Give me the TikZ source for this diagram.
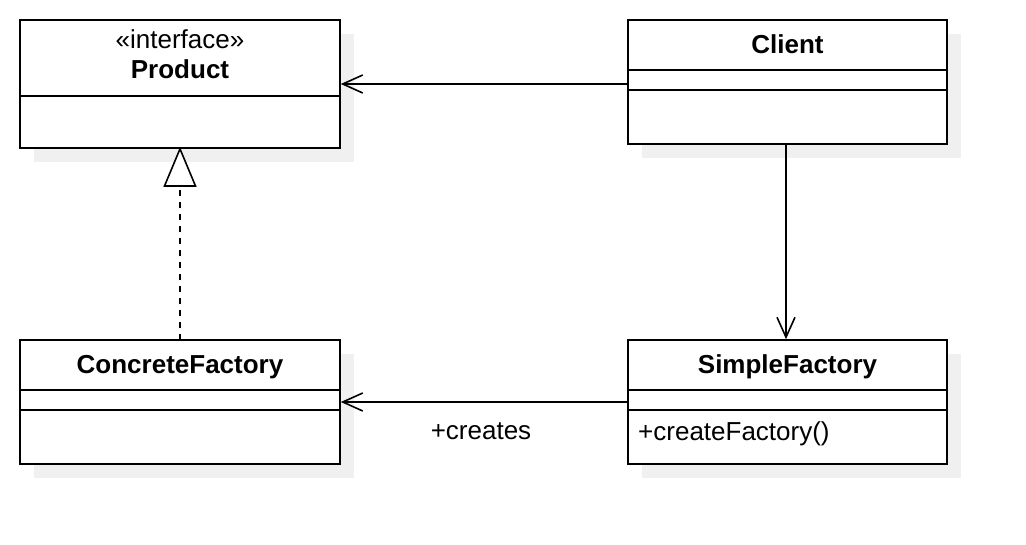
\documentclass[tikz,border=0pt]{standalone}
\usepackage{fontspec}
\setmainfont{Liberation Sans}
\usetikzlibrary{arrows.meta}
\tikzset{
  x=1pt,y=-1pt,
  umlbox/.style={draw=black,line width=1.6pt,fill=white,rectangle,minimum width=320pt,inner sep=0pt},
  shadowbox/.style={fill=black!6,draw=none},
  divider/.style={line width=1.6pt},
  assoc/.style={line width=1.6pt,-{Straight Barb[length=20pt,width=18pt,line width=1.6pt]}},
  realize/.style={line width=1.6pt,dash pattern=on 6pt off 6pt,-{Triangle[open,fill=white,length=40pt,width=33pt,line width=1.6pt]}},
  lbl/.style={font=\fontsize{26}{31}\selectfont,inner sep=0pt},
  blbl/.style={font=\fontsize{26}{31}\selectfont\bfseries,inner sep=0pt},
}
\begin{document}
\begin{tikzpicture}
\useasboundingbox (0,0) rectangle (1026,544);
% shadows
\fill[shadowbox] (34,34) rectangle (354,162);
\fill[shadowbox] (642,34) rectangle (961,158);
\fill[shadowbox] (34,354) rectangle (354,478);
\fill[shadowbox] (642,354) rectangle (961,478);
% class boxes
\node[umlbox,minimum height=128pt] (product) at (180,84) {};
\node[umlbox,minimum height=124pt,minimum width=319pt] (client) at (787.5,82) {};
\node[umlbox,minimum height=124pt] (concrete) at (180,402) {};
\node[umlbox,minimum height=124pt,minimum width=319pt] (simple) at (787.5,402) {};
% dividers
\draw[divider] (product.west |- 0,96) -- (product.east |- 0,96);
\draw[divider] (client.west |- 0,70) -- (client.east |- 0,70);
\draw[divider] (client.west |- 0,90) -- (client.east |- 0,90);
\draw[divider] (concrete.west |- 0,390) -- (concrete.east |- 0,390);
\draw[divider] (concrete.west |- 0,410) -- (concrete.east |- 0,410);
\draw[divider] (simple.west |- 0,390) -- (simple.east |- 0,390);
\draw[divider] (simple.west |- 0,410) -- (simple.east |- 0,410);
% texts
\node[lbl,anchor=base] (stereo) at (180,48) {«interface»};
\node[blbl,anchor=base] (ptitle) at (180,78) {Product};
\node[blbl,anchor=base] (ctitle) at (787.5,53) {Client};
\node[blbl,anchor=base] (cftitle) at (180,373) {ConcreteFactory};
\node[blbl,anchor=base] (sftitle) at (787.5,373) {SimpleFactory};
\node[lbl,anchor=base west] (op) at (638,440) {+createFactory()};
% connectors
\draw[assoc] (client.west |- product.east) -- (product.east);
\draw[assoc] ([xshift=-1.5pt]client.south) -- ([xshift=-1.5pt]simple.north);
\draw[assoc] (simple.west) -- (concrete.east);
\node[lbl,anchor=base] (creates) at (481,439) {+creates};
\draw[realize] ([yshift=-1pt]concrete.north) -- ([yshift=2pt]product.south);
\end{tikzpicture}
\end{document}
